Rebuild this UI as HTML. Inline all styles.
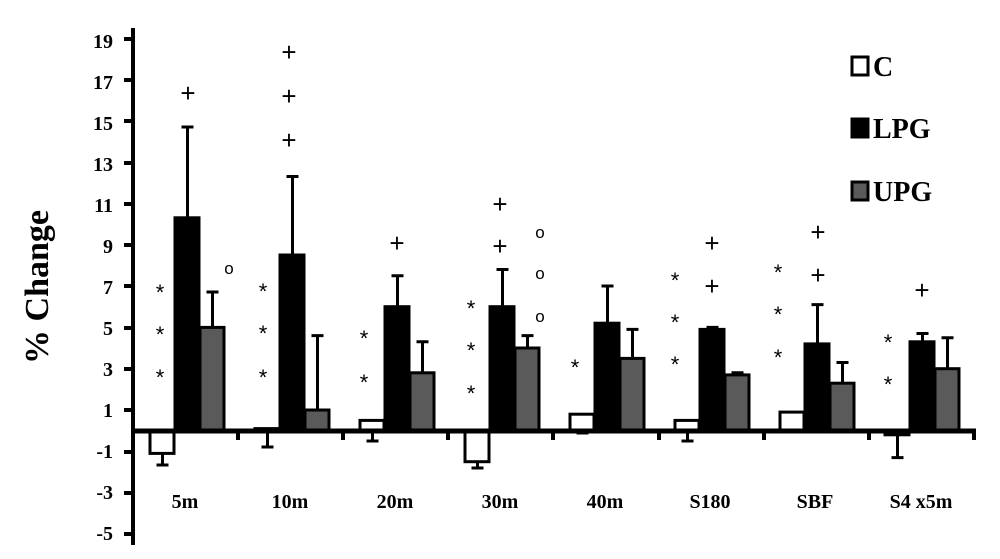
<!DOCTYPE html>
<html><head><style>body{margin:0;background:#fff}svg{display:block}</style></head><body>
<svg width="1000" height="559" xmlns="http://www.w3.org/2000/svg" font-family="Liberation Serif, serif" font-weight="bold">
<rect width="1000" height="559" fill="#fff"/>
<text transform="translate(48,287) rotate(-90)" text-anchor="middle" font-size="34">% Change</text>
<g font-size="20" text-anchor="end">
<text x="113" y="48">19</text><text x="113" y="89">17</text><text x="113" y="130">15</text><text x="113" y="171">13</text><text x="113" y="212">11</text><text x="113" y="253">9</text><text x="113" y="294">7</text><text x="113" y="335">5</text><text x="113" y="376">3</text><text x="113" y="417">1</text><text x="113" y="458">-1</text><text x="113" y="499">-3</text><text x="113" y="540">-5</text>
</g>
<g stroke="#000" stroke-width="4">
<line x1="133" y1="28" x2="133" y2="545"/>
<line x1="124" y1="39" x2="133" y2="39"/><line x1="124" y1="80" x2="133" y2="80"/><line x1="124" y1="121" x2="133" y2="121"/><line x1="124" y1="163" x2="133" y2="163"/><line x1="124" y1="204" x2="133" y2="204"/><line x1="124" y1="245" x2="133" y2="245"/><line x1="124" y1="286" x2="133" y2="286"/><line x1="124" y1="328" x2="133" y2="328"/><line x1="124" y1="369" x2="133" y2="369"/><line x1="124" y1="410" x2="133" y2="410"/><line x1="124" y1="452" x2="133" y2="452"/><line x1="124" y1="493" x2="133" y2="493"/><line x1="124" y1="534" x2="133" y2="534"/>
</g>
<g stroke="#000" stroke-width="3">
<path d="M162.5 453V465M156.5 465H168.5 M187.5 218V127M181.5 127H193.5 M212.5 327V292M206.5 292H218.5
M267.5 429V447M261.5 447H273.5 M292.5 255V176.5M286.5 176.5H298.5 M317.5 410V335.6M311.5 335.6H323.5
M372.5 420V441M366.5 441H378.5 M397.5 307V275.7M391.5 275.7H403.5 M422.5 373V341.8M416.5 341.8H428.5
M477.5 462V468M471.5 468H483.5 M502.5 307V269.5M496.5 269.5H508.5 M527.5 348V335.6M521.5 335.6H533.5
M582.5 414V433M576.5 433H588.5 M607.5 323V286M601.5 286H613.5 M632.5 358V329.4M626.5 329.4H638.5
M687.5 420V441M681.5 441H693.5 M712.5 329V327.4M706.5 327.4H718.5 M737.5 375V372.8M731.5 372.8H743.5
M792.5 412V431 M817.5 344V304.6M811.5 304.6H823.5 M842.5 383V362.5M836.5 362.5H848.5
M897.5 435V457.6M891.5 457.6H903.5 M922.5 342V333.5M916.5 333.5H928.5 M947.5 369V337.7M941.5 337.7H953.5" fill="none"/>
<rect x="150" y="430.7" width="24" height="22.7" fill="#fff"/>
<rect x="175" y="217.8" width="24" height="212.9" fill="#000"/>
<rect x="200" y="327.4" width="24" height="103.3" fill="#5a5a5a"/>
<rect x="255" y="428.6" width="24" height="2.1" fill="#fff"/>
<rect x="280" y="255" width="24" height="175.7" fill="#000"/>
<rect x="305" y="410" width="24" height="20.7" fill="#5a5a5a"/>
<rect x="360" y="420.4" width="24" height="10.3" fill="#fff"/>
<rect x="385" y="306.7" width="24" height="124" fill="#000"/>
<rect x="410" y="372.8" width="24" height="57.9" fill="#5a5a5a"/>
<rect x="465" y="430.7" width="24" height="31" fill="#fff"/>
<rect x="490" y="306.7" width="24" height="124" fill="#000"/>
<rect x="515" y="348" width="24" height="82.7" fill="#5a5a5a"/>
<rect x="570" y="414.2" width="24" height="16.5" fill="#fff"/>
<rect x="595" y="323.2" width="24" height="107.5" fill="#000"/>
<rect x="620" y="358.4" width="24" height="72.3" fill="#5a5a5a"/>
<rect x="675" y="420.4" width="24" height="10.3" fill="#fff"/>
<rect x="700" y="329.4" width="24" height="101.3" fill="#000"/>
<rect x="725" y="374.9" width="24" height="55.8" fill="#5a5a5a"/>
<rect x="780" y="412.1" width="24" height="18.6" fill="#fff"/>
<rect x="805" y="343.9" width="24" height="86.8" fill="#000"/>
<rect x="830" y="383.2" width="24" height="47.5" fill="#5a5a5a"/>
<rect x="885" y="430.7" width="24" height="4.1" fill="#fff"/>
<rect x="910" y="341.8" width="24" height="88.9" fill="#000"/>
<rect x="935" y="368.7" width="24" height="62" fill="#5a5a5a"/>
</g>
<line x1="133" y1="431" x2="976" y2="431" stroke="#000" stroke-width="5"/>
<g stroke="#000" stroke-width="4">
<line x1="238" y1="431" x2="238" y2="440"/><line x1="343" y1="431" x2="343" y2="440"/><line x1="448" y1="431" x2="448" y2="440"/><line x1="553" y1="431" x2="553" y2="440"/><line x1="659" y1="431" x2="659" y2="440"/><line x1="764" y1="431" x2="764" y2="440"/><line x1="869" y1="431" x2="869" y2="440"/><line x1="974" y1="431" x2="974" y2="440"/>
</g>
<g font-size="20" text-anchor="middle">
<text x="185" y="508">5m</text><text x="290" y="508">10m</text><text x="395" y="508">20m</text><text x="500" y="508">30m</text><text x="605" y="508">40m</text><text x="710" y="508">S180</text><text x="815" y="508">SBF</text><text x="921" y="508">S4 x5m</text>
</g>
<g font-size="28">
<rect x="852" y="57" width="16" height="18" fill="#fff" stroke="#000" stroke-width="3"/><text x="873" y="76">C</text>
<rect x="852" y="119" width="16" height="18" fill="#000" stroke="#000" stroke-width="3"/><text x="873" y="138">LPG</text>
<rect x="852" y="182" width="16" height="18" fill="#5a5a5a" stroke="#000" stroke-width="3"/><text x="873" y="201">UPG</text>
</g>
<g font-weight="normal" font-family="Liberation Sans, sans-serif" text-anchor="middle" font-size="22">
<text x="160" y="300">*</text><text x="160" y="342">*</text><text x="160" y="385">*</text>
<text x="263" y="299">*</text><text x="263" y="341">*</text><text x="263" y="385">*</text>
<text x="364" y="346">*</text><text x="364" y="390">*</text>
<text x="471" y="316">*</text><text x="471" y="358">*</text><text x="471" y="401">*</text>
<text x="575" y="375">*</text>
<text x="675" y="288">*</text><text x="675" y="330">*</text><text x="675" y="372">*</text>
<text x="778" y="280">*</text><text x="778" y="322">*</text><text x="778" y="365">*</text>
<text x="888" y="350">*</text><text x="888" y="392">*</text>
</g>
<g font-weight="normal" font-family="Liberation Sans, sans-serif" text-anchor="middle" font-size="26">
<text x="188" y="102">+</text><text x="289" y="61">+</text><text x="289" y="105">+</text><text x="289" y="149">+</text>
<text x="397" y="252">+</text><text x="500" y="213">+</text><text x="500" y="255">+</text>
<text x="712" y="252">+</text><text x="712" y="295">+</text>
<text x="818" y="241">+</text><text x="818" y="284">+</text><text x="922" y="299">+</text>
</g>
<g font-weight="normal" font-family="Liberation Sans, sans-serif" text-anchor="middle" font-size="17">
<text x="229" y="274">o</text><text x="540" y="238">o</text><text x="540" y="279">o</text><text x="540" y="322">o</text>
</g>
</svg>
</body></html>
